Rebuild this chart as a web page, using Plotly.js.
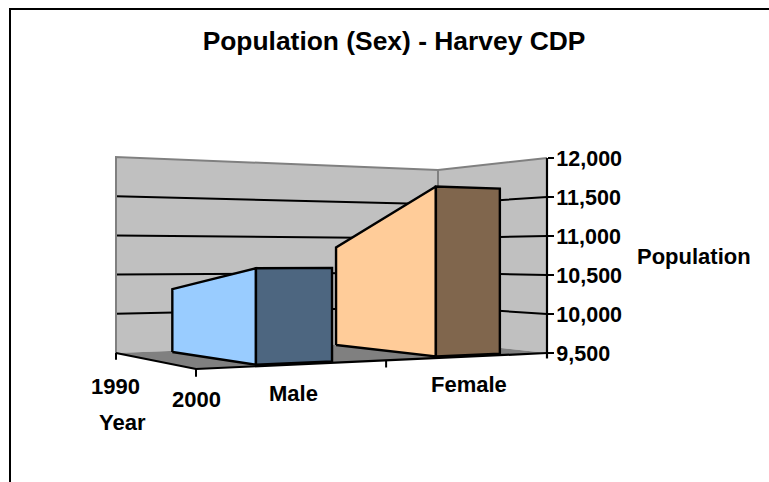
<!DOCTYPE html>
<html><head><meta charset="utf-8">
<script src="https://cdn.plot.ly/plotly-3.0.1.min.js"></script>
<style>html,body{margin:0;padding:0;background:#fff}#c{width:769px;height:482px}</style>
</head><body><div id="c"></div>
<script>
// Data
const categories = ['Male', 'Female'];
const years = ['1990', '2000'];
const male = [10310, 10600];
const female = [10860, 11600];
const valueTicks = [9500, 10000, 10500, 11000, 11500, 12000];
const titleText = 'Population (Sex) - Harvey CDP';

// Oblique-perspective view of the floor: u runs along categories, v runs back through years.
const W = 769, H = 482, VMIN = 9500, VMAX = 12000;
const VIEW = {a:450.4, b:-62.42, c:196, d:48.16, e:37.51, f:369, g:0.18175, h:0.15159, k:228.1, ku:2.3, kv:-2.4};
const PX_PER_UNIT = 195 / (VMAX - VMIN);
const Y0 = 353;
function project(u, v, val) {
  const w = 1 + VIEW.g*u + VIEW.h*v;
  const n = (val - VMIN) / (VMAX - VMIN);
  const px = (VIEW.a*u + VIEW.b*v + VIEW.c) / w;
  const py = (VIEW.d*u + VIEW.e*v + VIEW.f - n*(VIEW.k + VIEW.ku*u + VIEW.kv*v)) / w;
  return [px, VMIN + (Y0 - py) / PX_PER_UNIT]; // to x pixels and y-axis units
}
const traces = [];
function poly(pts, fill, line, width) {
  const p = pts.map(q => project(q[0], q[1], q[2]));
  const closed = fill != null;
  if (closed) p.push(p[0]);
  traces.push({type:'scatter', mode:'lines', x:p.map(q=>q[0]), y:p.map(q=>q[1]),
    fill: closed ? 'toself' : 'none', fillcolor: fill || undefined,
    line:{color: line || 'rgba(0,0,0,0)', width: width == null ? 2 : width},
    hoverinfo:'skip', showlegend:false, cliponaxis:false});
}
const GRAY='#808080', WALL='#c0c0c0';
// walls and floor
poly([[0,1,VMIN],[1,1,VMIN],[1,1,VMAX],[0,1,VMAX]], WALL, null, 0);
poly([[1,1,VMIN],[1,0,VMIN],[1,0,VMAX],[1,1,VMAX]], WALL, null, 0);
poly([[0,0,VMIN],[1,0,VMIN],[1,1,VMIN],[0,1,VMIN]], GRAY, null, 0);
// gridlines
valueTicks.filter(t => t > VMIN && t < VMAX).forEach(t => poly([[0,1,t],[1,1,t],[1,0,t]], null, '#000', 2));
// wall outlines
poly([[0,1,VMIN],[0,1,VMAX],[1,1,VMAX],[1,0,VMAX]], null, GRAY, 2);
poly([[1,1,VMIN],[1,1,VMAX]], null, GRAY, 2);
// floor front edges and axis ticks
poly([[0,1,VMIN],[0,0,VMIN],[1,0,VMIN]], null, '#000', 2.2);
poly([[1,0,VMIN-70],[1,0,VMAX]], null, '#000', 2.2);
[[0,1],[0,0],[0.5,0]].forEach(t => poly([[t[0],t[1],VMIN],[t[0],t[1],VMIN-85]], null, '#000', 2));
// solid areas: footprint corners on the floor [back-left, front-left, front-right]
function solid(values, fp, side, front) {
  const [b, fl, fr] = fp;
  poly([[b[0],b[1],VMIN],[fl[0],fl[1],VMIN],[fl[0],fl[1],values[1]],[b[0],b[1],values[0]]], side, '#000', 2.4);
  poly([[fl[0],fl[1],VMIN],[fr[0],fr[1],VMIN],[fr[0],fr[1],values[1]],[fl[0],fl[1],values[1]]], front, '#000', 2.4);
}
solid(male, [[0.14,0.93],[0.166,0.07],[0.369,0.07]], '#99ccff', '#4d6680');
solid(female, [[0.648,0.99],[0.674,0.08],[0.872,0.07]], '#ffcc99', '#80664d');

const FONT = {family:'Liberation Sans, Arial, sans-serif', size:22, color:'#000', weight:700};
function label(text, x, y) {
  return {text:text, x:x/W, y:1-y/H, xref:'paper', yref:'paper', showarrow:false,
    xanchor:'center', yanchor:'middle', font:FONT};
}
const layout = {
  width:W, height:H, margin:{l:0,r:0,t:0,b:0}, paper_bgcolor:'#fff', plot_bgcolor:'rgba(0,0,0,0)',
  showlegend:false,
  title:{text:titleText, x:394/W, xanchor:'center', y:1-41/H, yanchor:'middle',
    font:{family:FONT.family, size:26.4, color:'#000', weight:700}},
  xaxis:{visible:false, range:[0,W], domain:[0,1], fixedrange:true},
  yaxis:{range:[VMIN-(H-Y0)/PX_PER_UNIT, VMIN+Y0/PX_PER_UNIT], domain:[0,1], anchor:'free', position:547/W, side:'right',
    tickmode:'array', tickvals:valueTicks, tickformat:',', ticks:'outside', ticklen:6, tickwidth:2, tickcolor:'#000',
    showgrid:false, zeroline:false, showline:false, ticklabelstandoff:-2,
    tickfont:{family:FONT.family, size:21.5, color:'#000', weight:700}, fixedrange:true},
  annotations:[
    label(years[0],115,386), label(years[1],196,399), label('Year',122,422),
    label(categories[0],293,393), label(categories[1],469,384), label('Population',694,256)
  ],
  shapes:[
    {type:'line', xref:'paper', yref:'paper', x0:10/W, x1:1, y0:1-9/H, y1:1-9/H, line:{color:'#000',width:2}},
    {type:'line', xref:'paper', yref:'paper', x0:10/W, x1:10/W, y0:0, y1:1-8/H, line:{color:'#000',width:2}}
  ]
};
Plotly.newPlot('c', traces, layout, {displayModeBar:false, staticPlot:true});
</script></body></html>
